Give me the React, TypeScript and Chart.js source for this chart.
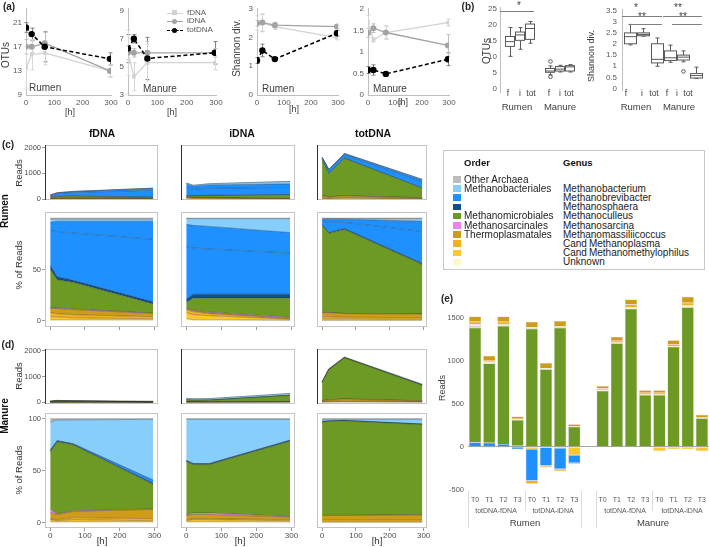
import React, { useEffect, useRef } from 'react';
import { Chart, registerables } from 'chart.js';

Chart.register(...registerables);
const FONT = "'Liberation Sans', Arial, Helvetica, sans-serif";
Chart.defaults.font.family = FONT;
const plain = (v: any) => `${v}`;

// ---------------- (a) time courses ----------------
const HOURS = [0, 20, 66, 296];
const H_TICKS = [0, 100, 200, 300];

const OTU_RUMEN_F = [13.5, 15.7, 16.0, 13.0];
const OTU_RUMEN_I = [17.0, 17.0, 17.6, 13.0];
const OTU_RUMEN_T = [20.2, 19.1, 17.0, 15.0];
const OTU_RUMEN_F_ERR = [3.5, 2.5, 2.0, 1.0];
const OTU_RUMEN_I_ERR = [1.2, 1.0, 1.8, 1.0];
const OTU_RUMEN_T_ERR = [0.8, 1.0, 2.5, 1.0];
const OTU_RUMEN_TICKS = [9, 13, 17, 21];

const OTU_MANURE_F = [6.0, 4.3, 5.3, 5.3];
const OTU_MANURE_I = [6.0, 6.0, 6.0, 6.0];
const OTU_MANURE_T = [6.3, 7.0, 5.6, 6.0];
const OTU_MANURE_F_ERR = [1.6, 1.0, 1.3, 0.5];
const OTU_MANURE_I_ERR = [0.5, 0.3, 0.8, 0.3];
const OTU_MANURE_T_ERR = [1.0, 0.3, 1.5, 0.8];
const OTU_MANURE_TICKS = [3, 5, 7, 9];

const SH_RUMEN_F = [2.5, 2.5, 2.38, 2.0];
const SH_RUMEN_I = [2.5, 2.52, 2.43, 2.38];
const SH_RUMEN_T = [1.2, 1.55, 1.25, 2.15];
const SH_RUMEN_F_ERR = [0.25, 0.3, 0.1, 0.08];
const SH_RUMEN_I_ERR = [0.1, 0.3, 0.1, 0.05];
const SH_RUMEN_T_ERR = [0.1, 0.22, 0.05, 0.1];
const SH_RUMEN_TICKS = [0, 1, 2, 3];

const SH_MANURE_F = [1.7, 1.28, 1.45, 1.68];
const SH_MANURE_I = [1.44, 1.55, 1.45, 1.15];
const SH_MANURE_T = [0.58, 0.58, 0.49, 0.83];
const SH_MANURE_F_ERR = [0.15, 0.05, 0.15, 0.08];
const SH_MANURE_I_ERR = [0.1, 0.1, 0.15, 0.25];
const SH_MANURE_T_ERR = [0.08, 0.12, 0.04, 0.15];
const SH_MANURE_TICKS = [0, 0.5, 1, 1.5, 2];

// ---------------- (b) box plots ----------------
const OTU_BOX_POS = [1, 2, 3, 5, 6, 7];
// [min, q1, median, q3, max]
const OTU_BOX_STATS = [
  [10.1, 13.2, 14.7, 16.3, 19.1],
  [12.3, 15.1, 16.8, 17.7, 19.1],
  [14.2, 15.4, 18.8, 20.2, 21.0],
  [4.3, 5.1, 5.5, 6.3, 7.1],
  [5.2, 5.5, 6.1, 6.9, 7.3],
  [5.2, 5.5, 6.8, 7.2, 7.5],
];
const OTU_BOX_OUT = [[], [], [], [8.5, 3.7], [], []];
const OTU_SIG = [[0.05, 3.45, 24.4]];
const OTU_BOX_TICKS = [0, 5, 10, 15, 20, 25];

const SH_BOX_POS = [1, 2, 3, 4, 5, 6];
const SH_BOX_STATS = [
  [1.96, 2.01, 2.33, 2.5, 2.88],
  [2.35, 2.37, 2.43, 2.5, 2.69],
  [1.0, 1.15, 1.31, 2.01, 2.27],
  [1.18, 1.26, 1.38, 1.69, 1.95],
  [1.2, 1.28, 1.41, 1.5, 1.69],
  [0.45, 0.47, 0.58, 0.67, 0.96],
];
const SH_BOX_OUT = [[], [], [], [], [0.77], []];
const SH_SIG = [
  [0.4, 3.41, 3.27],
  [1.0, 3.41, 2.92],
  [3.48, 6.41, 3.27],
  [4.16, 6.41, 2.92],
];
const SH_BOX_TICKS = [0, 0.5, 1, 1.5, 2, 2.5, 3, 3.5];

// ---------------- (c)/(d) community composition ----------------
// stacking order bottom -> top
const GENUS_NAMES = [
  'Unknown', 'CandMethanomethylophilus', 'CandMethanoplasma', 'Methanomassiliicoccus',
  'Methanosarcina', 'Methanoculleus', 'Methanosphaera', 'Methanobrevibacter',
  'Methanobrevibacter', 'Methanobacterium', 'Other Archaea',
];
const GENUS_COLORS = [
  '#fff8c6', '#ffc72c', '#f2b21e', '#cf9b1a', '#ee82ee', '#6c9a24',
  '#124f8c', '#1e90ff', '#1e90ff', '#87cefa', '#bdbdbd',
];

const RUMEN_F_PCT = [
  [1, 1, 1, 1], [3, 3, 2, 1], [4, 3, 3, 2], [4, 5, 5, 3], [0.5, 0.5, 0.5, 0.5],
  [37.5, 27.5, 26, 9], [4, 3, 2, 2], [34, 44, 46, 61], [8, 10, 11.5, 17.5],
  [3, 2, 2, 2], [1, 1, 1, 1],
];
const RUMEN_I_PCT = [
  [2, 1, 1, 0.5], [6, 5, 4, 1], [3, 3, 2, 0.5], [1, 1, 1, 0.5], [0.5, 0.5, 0.5, 1],
  [5.5, 11.5, 13.5, 18.5], [3, 4, 4, 4], [51, 45, 44, 40], [22, 22, 22, 20],
  [5.5, 6.5, 7.5, 13.5], [0.5, 0.5, 0.5, 0.5],
];
const RUMEN_T_PCT = [
  [0.5, 0.5, 0.5, 0.5], [1.5, 1.5, 1.5, 1], [2, 2, 1.5, 1.5], [4, 4, 3.5, 3.5],
  [0.2, 0.2, 0.2, 0.2], [85, 77, 81.8, 48.3], [0.8, 0.8, 1, 1], [4, 10, 6, 31],
  [1, 3, 3, 10], [0.5, 0.5, 0.5, 2.5], [0.5, 0.5, 0.5, 0.5],
];
const MANURE_F_PCT = [
  [1, 1, 1, 1], [2, 1, 2, 1], [1, 1, 2, 2], [6, 5, 6, 9], [3, 0.5, 0.5, 0.3],
  [55, 69.5, 63.5, 23.7], [1, 0.5, 0.5, 1], [1, 0.5, 0.5, 3], [0, 0, 0, 0],
  [27, 20, 23, 58.5], [3, 1, 1, 0.5],
];
const MANURE_I_PCT = [
  [1, 1, 1, 1], [1, 2, 2, 1], [1, 1, 1, 1], [4, 4, 4, 2.5], [0.5, 1.5, 1.5, 0.5],
  [51.5, 46.5, 46.5, 72.5], [0.5, 0.5, 0.5, 0.5], [0.5, 0.5, 0.5, 0.5], [0, 0, 0, 0],
  [39.5, 42.5, 42.5, 20], [0.5, 0.5, 0.5, 0.5],
];
const MANURE_T_PCT = [
  [0.5, 0.5, 0.5, 0.5], [1, 1, 1, 1], [1.5, 1.5, 1.5, 1.5], [4, 4, 4, 4.5],
  [0.2, 0.2, 0.2, 0.2], [89.8, 90.3, 90.8, 86.8], [0.2, 0.2, 0.2, 0.2],
  [0.3, 0.3, 0.3, 0.3], [0, 0, 0, 0], [2, 1.5, 1, 4.5], [0.5, 0.5, 0.5, 0.5],
];
const RUMEN_F_READS = [160, 250, 300, 430];
const RUMEN_I_READS = [630, 540, 600, 690];
const RUMEN_T_READS = [1640, 1160, 1780, 770];
const MANURE_F_READS = [45, 70, 60, 35];
const MANURE_I_READS = [150, 130, 140, 340];
const MANURE_T_READS = [800, 1300, 1760, 700];
const READS_TICKS = [0, 1000, 2000];
const PCT_TICKS_C = [0, 50];
const PCT_TICKS_D = [0, 50, 100];

// ---------------- legend ----------------
const LEGEND_COLORS = ['#bdbdbd', '#87cefa', '#1e90ff', '#124f8c', '#6c9a24', '#ee82ee', '#cf9b1a', '#f2b21e', '#ffc72c', '#fff8c6'];
const LEGEND_ORDER = ['Other Archaea', 'Methanobacteriales', '', '', 'Methanomicrobiales', 'Methanosarcinales', 'Thermoplasmatales', '', '', ''];
const LEGEND_GENUS = ['', 'Methanobacterium', 'Methanobrevibacter', 'Methanosphaera', 'Methanoculleus', 'Methanosarcina', 'Methanomassiliicoccus', 'Cand\u2009Methanoplasma', 'Cand\u2009Methanomethylophilus', 'Unknown'];

// ---------------- (e) differences ----------------
const E_LABELS = ['T0', 'T1', 'T2', 'T3', 'T0', 'T1', 'T2', 'T3', '', 'T0', 'T1', 'T2', 'T3', 'T0', 'T1', 'T2', 'T3'];
const E_CMM = [0, 0, 0, 0, -30, -10, -20, -100, null, 0, 0, 0, 0, -50, -30, -30, -50];
const E_MBREV = [50, 45, 30, -30, -365, -210, -240, -90, null, 0, 0, 0, 0, 0, 0, 0, 0];
const E_MSPH = [-8, -5, -5, 10, -5, -8, -5, -5, null, 0, 0, 0, 0, 0, 0, 0, 0];
const E_MCUL = [1330, 920, 1370, 300, 1370, 900, 1380, 230, null, 650, 1200, 1600, 600, 600, 1160, 1620, 330];
const E_OTH = [20, 10, 10, 0, 10, 5, 10, 0, null, 0, 0, 0, 0, 0, 0, 0, 0];
const E_UNK = [20, 10, 10, 5, 10, 5, 10, 5, null, 10, 10, 20, 10, 10, 10, 20, 5];
const E_CMP = [30, 20, 30, 10, -30, -15, -20, -10, null, 15, 20, 30, 15, 15, 20, 30, 10];
const E_MMAS = [60, 50, 60, 25, 60, 60, 60, 25, null, 30, 45, 60, 30, 30, 45, 70, 25];
const E_TICKS = [-500, 0, 500, 1000, 1500];
const E_SEP_FULL = [0, 8, 9, 17];
const E_SEP_SUB = [4, 13];

// ---------------- plugins ----------------
function errorBarPlugin(errs: number[][]) {
  return {
    id: 'errBars',
    beforeDatasetsDraw(chart: any) {
      const { ctx } = chart;
      const x = chart.scales.x, y = chart.scales.y;
      chart.data.datasets.forEach((ds: any, i: number) => {
        const e = errs[i];
        ctx.save();
        ctx.strokeStyle = ds.errColor;
        ctx.lineWidth = 1;
        ds.data.forEach((p: any, j: number) => {
          const px = Math.round(x.getPixelForValue(p.x)) + 0.5;
          const y1 = y.getPixelForValue(p.y + e[j]);
          const y2 = y.getPixelForValue(p.y - e[j]);
          ctx.beginPath();
          ctx.moveTo(px, y1); ctx.lineTo(px, y2);
          ctx.moveTo(px - 2, y1); ctx.lineTo(px + 2, y1);
          ctx.moveTo(px - 2, y2); ctx.lineTo(px + 2, y2);
          ctx.stroke();
        });
        ctx.restore();
      });
    },
  };
}

function boxPlugin(pos: number[], stats: number[][], outl: number[][], sig: number[][], bw: number) {
  return {
    id: 'boxes',
    afterDatasetsDraw(chart: any) {
      const { ctx } = chart;
      const x = chart.scales.x, y = chart.scales.y;
      ctx.save();
      ctx.strokeStyle = '#595959';
      ctx.lineWidth = 1;
      stats.forEach((s, k) => {
        const cx = x.getPixelForValue(pos[k]);
        const c = Math.round(cx) + 0.5;
        const l = Math.round(cx - bw / 2) + 0.5, r = Math.round(cx + bw / 2) + 0.5;
        const [mn, q1, md, q3, mx] = s.map((v) => y.getPixelForValue(v));
        ctx.beginPath();
        ctx.moveTo(c, mx); ctx.lineTo(c, q3);
        ctx.moveTo(c, q1); ctx.lineTo(c, mn);
        ctx.moveTo(c - 2, mx); ctx.lineTo(c + 2, mx);
        ctx.moveTo(c - 2, mn); ctx.lineTo(c + 2, mn);
        ctx.stroke();
        ctx.fillStyle = '#fff';
        ctx.fillRect(l, q3, r - l, q1 - q3);
        ctx.strokeRect(l, q3, r - l, q1 - q3);
        ctx.beginPath();
        ctx.moveTo(l, md); ctx.lineTo(r, md);
        ctx.stroke();
        outl[k].forEach((o) => {
          ctx.beginPath();
          ctx.arc(c, y.getPixelForValue(o), 1.8, 0, Math.PI * 2);
          ctx.stroke();
        });
      });
      ctx.strokeStyle = '#7f7f7f';
      sig.forEach(([a, b, v]) => {
        const py = Math.round(y.getPixelForValue(v)) + 0.5;
        ctx.beginPath();
        ctx.moveTo(x.getPixelForValue(a), py);
        ctx.lineTo(x.getPixelForValue(b), py);
        ctx.stroke();
      });
      ctx.restore();
    },
  };
}

const panelBorder = {
  id: 'panelBorder',
  afterDraw(chart: any, _args: any, opts: any) {
    const { ctx, chartArea: a } = chart;
    ctx.save();
    ctx.strokeStyle = '#c4c4c4';
    ctx.lineWidth = 1;
    ctx.strokeRect(a.left + 0.5, a.top + 0.5, a.right - a.left - 1, a.bottom - a.top - 1);
    if (opts && opts.dark) {
      ctx.strokeStyle = '#333';
      ctx.beginPath();
      ctx.moveTo(a.left + 0.5, a.top);
      ctx.lineTo(a.left + 0.5, a.bottom);
      ctx.stroke();
    }
    ctx.restore();
  },
};

const eSeparators = {
  id: 'eSep',
  afterDraw(chart: any) {
    const { ctx, chartArea: a } = chart;
    const x = chart.scales.x;
    const half = (x.getPixelForValue(1) - x.getPixelForValue(0)) / 2;
    ctx.save();
    ctx.strokeStyle = '#dcdcdc';
    ctx.lineWidth = 1;
    const draw = (k: number, len: number) => {
      const px = Math.round(x.getPixelForValue(0) + (2 * k - 1) * half) + 0.5;
      ctx.beginPath();
      ctx.moveTo(px, a.bottom - 3);
      ctx.lineTo(px, a.bottom + len);
      ctx.stroke();
    };
    E_SEP_FULL.forEach((k) => draw(k, 34));
    E_SEP_SUB.forEach((k) => draw(k, 17));
    ctx.restore();
  },
};

// ---------------- config factories ----------------
function lineConfig(f: number[], i: number[], t: number[], fe: number[], ie: number[], te: number[], ticks: number[], yMin: number, yMax: number, yw: number) {
  const pts = (a: number[]) => HOURS.map((h, k) => ({ x: h, y: a[k] }));
  return {
    type: 'line',
    data: {
      datasets: [
        { label: 'totDNA', data: pts(t), borderColor: '#000', backgroundColor: '#000', borderDash: [4, 2.5], borderWidth: 1.5, pointRadius: 3.2, pointBorderWidth: 0, errColor: '#808080' },
        { label: 'iDNA', data: pts(i), borderColor: '#a3a3a3', backgroundColor: '#a3a3a3', borderWidth: 1.3, pointRadius: 3, pointBorderWidth: 0, errColor: '#bdbdbd' },
        { label: 'fDNA', data: pts(f), borderColor: '#d2d2d2', backgroundColor: '#d2d2d2', borderWidth: 1.3, pointStyle: 'rect', pointRadius: 2.6, pointBorderWidth: 0, errColor: '#d6d6d6' },
      ],
    },
    options: {
      animation: false, responsive: false, events: [],
      layout: { padding: { top: 3, right: 11, left: 0, bottom: 0 } },
      plugins: { legend: { display: false }, tooltip: { enabled: false } },
      scales: {
        x: {
          type: 'linear', min: 0, max: 300,
          afterBuildTicks: (s: any) => { s.ticks = H_TICKS.map((v) => ({ value: v })); },
          ticks: { font: { size: 8 }, color: '#595959', padding: 3, maxRotation: 0, autoSkip: false, callback: plain },
          grid: { display: false, drawTicks: false },
          border: { color: '#bfbfbf' },
          afterFit: (s: any) => { s.height = 25; },
        },
        y: {
          min: yMin, max: yMax,
          afterBuildTicks: (s: any) => { s.ticks = ticks.map((v) => ({ value: v })); },
          ticks: { font: { size: 8 }, color: '#595959', padding: 4, autoSkip: false, callback: plain },
          grid: { display: false, drawTicks: false },
          border: { color: '#bfbfbf' },
          afterFit: (s: any) => { s.width = yw; },
        },
      },
    },
    plugins: [errorBarPlugin([te, ie, fe])],
  };
}

function boxConfig(pos: number[], stats: number[][], outl: number[][], sig: number[][], ticks: number[], yMin: number, yMax: number, xMin: number, xMax: number, yw: number, padR: number, bw: number, tickPad: number) {
  return {
    type: 'scatter',
    data: { datasets: [{ data: pos.map((p, k) => ({ x: p, y: stats[k][2] })), pointRadius: 0 }] },
    options: {
      animation: false, responsive: false, events: [],
      layout: { padding: { top: 3, right: padR, left: 0, bottom: 3 } },
      plugins: { legend: { display: false }, tooltip: { enabled: false } },
      scales: {
        x: { type: 'linear', min: xMin, max: xMax, display: false },
        y: {
          min: yMin, max: yMax,
          afterBuildTicks: (s: any) => { s.ticks = ticks.map((v) => ({ value: v })); },
          ticks: { font: { size: 8 }, color: '#595959', padding: tickPad, autoSkip: false, callback: plain },
          grid: { display: false, drawTicks: false },
          border: { color: '#bfbfbf' },
          afterFit: (s: any) => { s.width = yw; },
        },
      },
    },
    plugins: [boxPlugin(pos, stats, outl, sig, bw)],
  };
}

type AreaOpts = {
  rows: number[][]; total?: number[]; yMin: number; yMax: number; yTicks: number[];
  leftCol: boolean; xMode: 'none' | 'marks' | 'labels'; L: number; T: number; R: number; B: number; dark?: boolean;
};
function areaConfig(o: AreaOpts) {
  const datasets = GENUS_NAMES.map((name, gi) => ({
    label: name,
    data: HOURS.map((h, ti) => ({ x: h, y: o.total ? (o.total[ti] * o.rows[gi][ti]) / 100 : o.rows[gi][ti] })),
    fill: gi === 0 ? 'origin' : '-1',
    backgroundColor: GENUS_COLORS[gi],
    borderColor: 'rgba(25,25,25,0.5)',
    borderWidth: 0.6,
    pointRadius: 0,
    tension: 0,
  }));
  return {
    type: 'line',
    data: { datasets },
    options: {
      animation: false, responsive: false, events: [],
      layout: { padding: { left: 0, top: o.T, right: o.R, bottom: o.xMode === 'none' ? o.B : 0 } },
      plugins: { legend: { display: false }, tooltip: { enabled: false }, panelBorder: { dark: !!o.dark } },
      scales: {
        x: {
          type: 'linear', min: -15, max: 310, display: o.xMode !== 'none',
          afterBuildTicks: (s: any) => { s.ticks = H_TICKS.map((v) => ({ value: v })); },
          ticks: { display: o.xMode === 'labels', font: { size: 8 }, color: '#4d4d4d', padding: 0, maxRotation: 0, autoSkip: false, callback: plain },
          grid: { drawOnChartArea: false, drawTicks: true, tickLength: 3, color: '#9a9a9a' },
          border: { display: false },
          afterFit: (s: any) => { s.height = o.B; },
        },
        y: {
          stacked: true, min: o.yMin, max: o.yMax,
          afterBuildTicks: (s: any) => { s.ticks = o.yTicks.map((v) => ({ value: v })); },
          ticks: { display: o.leftCol, font: { size: 7.5 }, color: '#4d4d4d', padding: 1, autoSkip: false, callback: plain },
          grid: { drawOnChartArea: false, drawTicks: o.leftCol, tickLength: 3, color: '#9a9a9a' },
          border: { display: false },
          afterFit: (s: any) => { s.width = o.L; },
        },
      },
    },
    plugins: [panelBorder],
  };
}

function barConfig() {
  const series = [
    { name: 'CandMethanomethylophilus', values: E_CMM, color: '#ffc72c' },
    { name: 'Methanobrevibacter', values: E_MBREV, color: '#1e90ff' },
    { name: 'Methanosphaera', values: E_MSPH, color: '#124f8c' },
    { name: 'Methanoculleus', values: E_MCUL, color: '#6c9a24' },
    { name: 'Other Archaea', values: E_OTH, color: '#c8c8c8' },
    { name: 'Unknown', values: E_UNK, color: '#fff2b0' },
    { name: 'CandMethanoplasma', values: E_CMP, color: '#f2b21e' },
    { name: 'Methanomassiliicoccus', values: E_MMAS, color: '#cf9b1a' },
  ];
  return {
    type: 'bar',
    data: {
      labels: E_LABELS,
      datasets: series.map((s) => ({
        label: s.name, data: s.values, backgroundColor: s.color,
        borderColor: 'rgba(190,190,190,0.9)', borderWidth: 0.5,
        barPercentage: 0.86, categoryPercentage: 1,
      })),
    },
    options: {
      animation: false, responsive: false, events: [],
      layout: { padding: { top: 6, right: 0, left: 0, bottom: 0 } },
      plugins: { legend: { display: false }, tooltip: { enabled: false } },
      scales: {
        x: {
          stacked: true,
          grid: { display: false, drawTicks: false },
          border: { display: false },
          ticks: { font: { size: 7 }, color: '#595959', padding: 2, maxRotation: 0, autoSkip: false },
          afterFit: (s: any) => { s.height = 53; },
        },
        y: {
          stacked: true, min: -550, max: 1790,
          afterBuildTicks: (s: any) => { s.ticks = E_TICKS.map((v) => ({ value: v })); },
          ticks: { font: { size: 7.5 }, color: '#595959', padding: 4, autoSkip: false, callback: plain },
          grid: { color: (c: any) => (c.tick && c.tick.value === 0 ? '#a6a6a6' : 'rgba(0,0,0,0)'), drawTicks: false },
          border: { display: false },
          afterFit: (s: any) => { s.width = 32; },
        },
      },
    },
    plugins: [eSeparators],
  };
}

// ---------------- components ----------------
function ChartCanvas({ x, y, w, h, make }: { x: number; y: number; w: number; h: number; make: () => any }) {
  const ref = useRef<HTMLCanvasElement>(null);
  useEffect(() => {
    const c = new Chart(ref.current as HTMLCanvasElement, make());
    return () => c.destroy();
  }, []);
  return <canvas ref={ref} width={w} height={h} style={{ position: 'absolute', left: x, top: y, width: w, height: h }} />;
}

function Txt({ x, y, t, s = 9, b = false, rot = false, c = '#262626', a = 'center' }: any) {
  const tx = a === 'center' ? '-50%' : a === 'right' ? '-100%' : '0';
  return (
    <div
      style={{
        position: 'absolute', left: x, top: y, whiteSpace: 'nowrap', fontSize: s, lineHeight: 1,
        fontWeight: b ? 'bold' : 'normal', color: c,
        transform: `translate(${tx},-50%)${rot ? ' rotate(-90deg)' : ''}`,
      }}
    >
      {t}
    </div>
  );
}

const COLS = [
  { x: 45, w: 113, L: 45 },
  { x: 181, w: 114, L: 4 },
  { x: 317, w: 110, L: 4 },
];

function AreaPanel({ col, top, h, rows, total, yMin, yMax, yTicks, xMode, B }: any) {
  const c = COLS[col];
  const T = 6, R = 10;
  const cw = c.L + c.w + R;
  const ch = T + h + B;
  return (
    <ChartCanvas
      x={c.x - c.L} y={top - T} w={cw} h={ch}
      make={() => areaConfig({ rows, total, yMin, yMax, yTicks, leftCol: col === 0, xMode, L: c.L, T, R, B, dark: !!total })}
    />
  );
}

function LegendLine({ y, color, dash, marker, label }: any) {
  return (
    <>
      <div style={{ position: 'absolute', left: 167, top: y, width: 16, height: 0, borderTop: `1.5px ${dash ? 'dashed' : 'solid'} ${color}` }} />
      <div style={{ position: 'absolute', left: 172, top: y - 2.5, width: 5, height: 5, background: color, borderRadius: marker === 'rect' ? 0 : '50%' }} />
      <Txt x={187} y={y} t={label} s={8} a="left" c="#595959" />
    </>
  );
}

export default function App() {
  const rumenPct = [RUMEN_F_PCT, RUMEN_I_PCT, RUMEN_T_PCT];
  const rumenReads = [RUMEN_F_READS, RUMEN_I_READS, RUMEN_T_READS];
  const manurePct = [MANURE_F_PCT, MANURE_I_PCT, MANURE_T_PCT];
  const manureReads = [MANURE_F_READS, MANURE_I_READS, MANURE_T_READS];
  return (
    <div style={{ position: 'absolute', left: 0, top: 0, width: 709, height: 547, overflow: 'hidden', background: '#fff', fontFamily: FONT, color: '#262626' }}>
      {/* (a) */}
      <ChartCanvas x={0} y={0} w={122} h={120} make={() => lineConfig(OTU_RUMEN_F, OTU_RUMEN_I, OTU_RUMEN_T, OTU_RUMEN_F_ERR, OTU_RUMEN_I_ERR, OTU_RUMEN_T_ERR, OTU_RUMEN_TICKS, 9, 23.3, 26)} />
      <ChartCanvas x={110} y={0} w={117} h={120} make={() => lineConfig(OTU_MANURE_F, OTU_MANURE_I, OTU_MANURE_T, OTU_MANURE_F_ERR, OTU_MANURE_I_ERR, OTU_MANURE_T_ERR, OTU_MANURE_TICKS, 3, 9.13, 18)} />
      <ChartCanvas x={230} y={0} w={119} h={120} make={() => lineConfig(SH_RUMEN_F, SH_RUMEN_I, SH_RUMEN_T, SH_RUMEN_F_ERR, SH_RUMEN_I_ERR, SH_RUMEN_T_ERR, SH_RUMEN_TICKS, 0, 3, 27)} />
      <ChartCanvas x={348} y={0} w={112} h={120} make={() => lineConfig(SH_MANURE_F, SH_MANURE_I, SH_MANURE_T, SH_MANURE_F_ERR, SH_MANURE_I_ERR, SH_MANURE_T_ERR, SH_MANURE_TICKS, 0, 2, 20)} />
      <Txt x={9} y={7} t="(a)" s={10} b />
      <Txt x={6} y={55} t="OTUs" s={10} rot c="#404040" />
      <Txt x={29} y={88} t="Rumen" s={10} a="left" c="#404040" />
      <Txt x={70} y={112} t="[h]" s={9} c="#404040" />
      <Txt x={143} y={89} t="Manure" s={10} a="left" c="#404040" />
      <Txt x={172} y={112} t="[h]" s={9} c="#404040" />
      <LegendLine y={12.5} color="#d2d2d2" marker="rect" label="fDNA" />
      <LegendLine y={21} color="#a3a3a3" label="iDNA" />
      <LegendLine y={30} color="#000" dash label="totDNA" />
      <Txt x={237} y={48} t="Shannon div." s={10} rot c="#404040" />
      <Txt x={262} y={89} t="Rumen" s={10} a="left" c="#404040" />
      <Txt x={294} y={109} t="[h]" s={9} c="#404040" />
      <Txt x={373} y={89} t="Manure" s={10} a="left" c="#404040" />
      <Txt x={403} y={102} t="[h]" s={9} c="#404040" />

      {/* (b) */}
      <ChartCanvas x={470} y={0} w={112} h={100} make={() => boxConfig(OTU_BOX_POS, OTU_BOX_STATS, OTU_BOX_OUT, OTU_SIG, OTU_BOX_TICKS, -1.12, 25.28, 0.05, 7.8, 30, 4.5, 9, 3)} />
      <ChartCanvas x={590} y={0} w={119} h={100} make={() => boxConfig(SH_BOX_POS, SH_BOX_STATS, SH_BOX_OUT, SH_SIG, SH_BOX_TICKS, -0.077, 3.538, 0.4, 6.64, 32, 4, 12, 5)} />
      <Txt x={468} y={7} t="(b)" s={10} b />
      <Txt x={487} y={51} t="OTUs" s={10} rot c="#404040" />
      <Txt x={591} y={56} t="Shannon div." s={9} rot c="#404040" />
      <Txt x={519} y={6} t="*" s={10} c="#404040" />
      <Txt x={636} y={8} t="*" s={10} c="#404040" />
      <Txt x={642} y={17} t="**" s={10} c="#404040" />
      <Txt x={678} y={8} t="**" s={10} c="#404040" />
      <Txt x={683} y={17} t="**" s={10} c="#404040" />
      {[['f', 508], ['i', 520], ['tot', 531], ['f', 549], ['i', 560], ['tot', 569]].map(([t, x], k) => (
        <Txt key={'bo' + k} x={x} y={93} t={t} s={8.5} c="#404040" />
      ))}
      {[['f', 626], ['i', 642], ['tot', 654], ['f', 667], ['i', 677], ['tot', 688]].map(([t, x], k) => (
        <Txt key={'bs' + k} x={x} y={93} t={t} s={8.5} c="#404040" />
      ))}
      <Txt x={517} y={107} t="Rumen" s={9.5} c="#404040" />
      <Txt x={560} y={107} t="Manure" s={9.5} c="#404040" />
      <Txt x={636} y={107} t="Rumen" s={9.5} c="#404040" />
      <Txt x={679} y={107} t="Manure" s={9.5} c="#404040" />

      {/* (c) Rumen */}
      {[0, 1, 2].map((col) => (
        <AreaPanel key={'rr' + col} col={col} top={145} h={61} rows={rumenPct[col]} total={rumenReads[col]} yMin={-35} yMax={2105} yTicks={READS_TICKS} xMode="none" B={6} />
      ))}
      {[0, 1, 2].map((col) => (
        <AreaPanel key={'rp' + col} col={col} top={212} h={115} rows={rumenPct[col]} yMin={-6} yMax={106} yTicks={PCT_TICKS_C} xMode="marks" B={6} />
      ))}
      {/* (d) Manure */}
      {[0, 1, 2].map((col) => (
        <AreaPanel key={'mr' + col} col={col} top={349} h={61} rows={manurePct[col]} total={manureReads[col]} yMin={-70} yMax={2070} yTicks={READS_TICKS} xMode="none" B={6} />
      ))}
      {[0, 1, 2].map((col) => (
        <AreaPanel key={'mp' + col} col={col} top={413} h={115} rows={manurePct[col]} yMin={-5} yMax={105.6} yTicks={PCT_TICKS_D} xMode="labels" B={19} />
      ))}
      <Txt x={8} y={145} t="(c)" s={10} b />
      <Txt x={102} y={133} t="fDNA" s={10.5} b c="#111" />
      <Txt x={242} y={133} t="iDNA" s={10.5} b c="#111" />
      <Txt x={373} y={133} t="totDNA" s={10.5} b c="#111" />
      <Txt x={5} y={211} t="Rumen" s={10} b rot c="#111" />
      <Txt x={19} y={173} t="Reads" s={9.5} rot c="#333" />
      <Txt x={19} y={265} t="% of Reads" s={9.5} rot c="#333" />
      <Txt x={8} y={345} t="(d)" s={10} b />
      <Txt x={5} y={416} t="Manure" s={10} b rot c="#111" />
      <Txt x={19} y={376} t="Reads" s={9.5} rot c="#333" />
      <Txt x={19} y={470} t="% of Reads" s={9.5} rot c="#333" />
      <Txt x={102} y={541} t="[h]" s={9.5} c="#333" />
      <Txt x={240} y={541} t="[h]" s={9.5} c="#333" />
      <Txt x={377} y={541} t="[h]" s={9.5} c="#333" />

      {/* legend */}
      <div style={{ position: 'absolute', left: 443, top: 150, width: 262, height: 120, border: '1px solid #c8c8c8', boxSizing: 'border-box' }} />
      <Txt x={464} y={163} t="Order" s={9.5} b a="left" c="#111" />
      <Txt x={563} y={163} t="Genus" s={9.5} b a="left" c="#111" />
      {LEGEND_COLORS.map((col, k) => (
        <React.Fragment key={'lg' + k}>
          <div style={{ position: 'absolute', left: 453, top: 176 + k * 9.2, width: 8, height: 6.5, background: col }} />
          <Txt x={464} y={179.5 + k * 9.2} t={LEGEND_ORDER[k]} s={10} a="left" c="#222" />
          <Txt x={563} y={179.5 + k * 9.2} t={LEGEND_GENUS[k]} s={10} a="left" c="#222" />
        </React.Fragment>
      ))}

      {/* (e) */}
      <ChartCanvas x={436} y={284} w={273} h={263} make={() => barConfig()} />
      <Txt x={447} y={299} t="(e)" s={10} b />
      <Txt x={442} y={388} t="Reads" s={9} rot c="#404040" />
      <Txt x={496} y={510} t="totDNA-fDNA" s={7} c="#595959" />
      <Txt x={553} y={510} t="totDNA-iDNA" s={7} c="#595959" />
      <Txt x={625} y={510} t="totDNA-fDNA" s={7} c="#595959" />
      <Txt x={682} y={510} t="totDNA-iDNA" s={7} c="#595959" />
      <Txt x={525} y={523} t="Rumen" s={9.5} c="#404040" />
      <Txt x={653} y={523} t="Manure" s={9.5} c="#404040" />
    </div>
  );
}
